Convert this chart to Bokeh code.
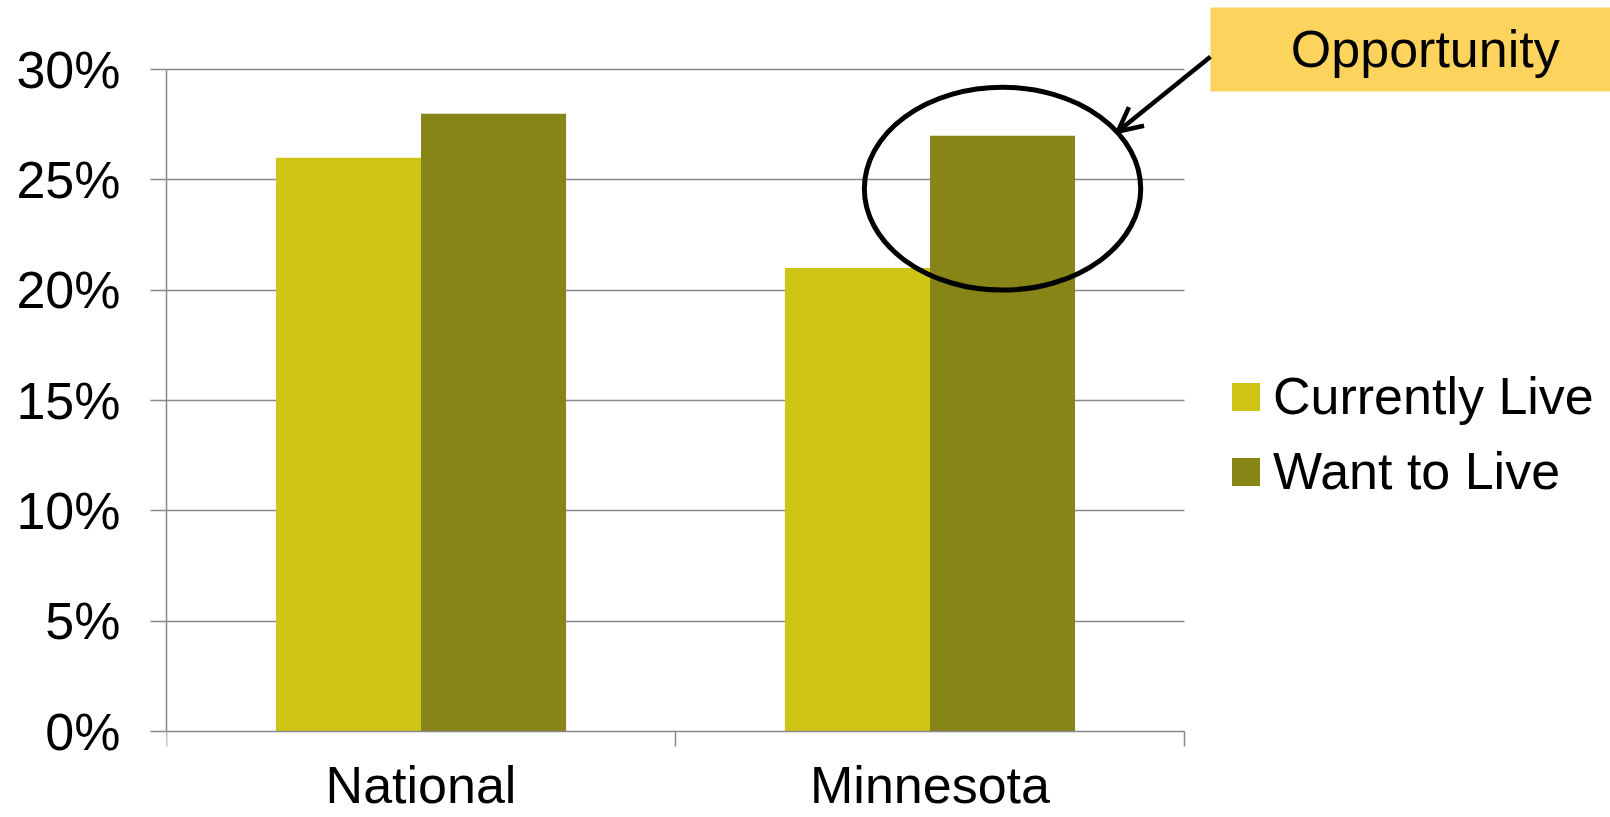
from bokeh.plotting import figure
from bokeh.models import (Range1d, FixedTicker, NumeralTickFormatter, Legend, LegendItem,
                          Arrow, OpenHead, BoxAnnotation, Label, LinearAxis)
from bokeh.embed import file_html
from bokeh.resources import INLINE

categories = ["National", "Minnesota"]
series_names = ["Currently Live", "Want to Live"]
currently_live = [0.26, 0.21]
want_to_live = [0.28, 0.27]
y_ticks = [0.0, 0.05, 0.10, 0.15, 0.20, 0.25, 0.30]
callout_text = "Opportunity"

FONT = "Liberation Sans"
GREY = "#898989"
C_CUR = "#D0C416"
C_WANT = "#888518"
FS = "52px"

n = len(categories)
centers = [i + 0.5 for i in range(n)]
bw = 0.285
y_max = y_ticks[-1]

W, H = 1610, 817
left_px, axis_w_px = 166, 1018          # plotting area of the bar chart
top_px, axis_h_px = 69, 662
px_per_x = axis_w_px / n
px_per_y = axis_h_px / y_max
x_end = n + (W - left_px - axis_w_px) / px_per_x
y_end = y_max + top_px / px_per_y
y_start = -(H - top_px - axis_h_px) / px_per_y

p = figure(width=W, height=H, output_backend="svg", toolbar_location=None,
           x_range=Range1d(0, x_end), y_range=Range1d(y_start, y_end),
           x_axis_location=None,
           min_border_left=left_px, min_border_right=0, min_border_top=0,
           min_border_bottom=0)
p.outline_line_color = None

r1 = p.vbar(x=[c - bw / 2 for c in centers], top=currently_live, width=bw,
            fill_color=C_CUR, line_color=None)
r2 = p.vbar(x=[c + bw / 2 for c in centers], top=want_to_live, width=bw,
            fill_color=C_WANT, line_color=None)

# y axis
yax = p.yaxis[0]
yax.ticker = FixedTicker(ticks=y_ticks)
yax.bounds = (0, y_max)
yax.formatter = NumeralTickFormatter(format="0%")
yax.axis_line_color = GREY
yax.axis_line_width = 1.5
yax.major_tick_line_color = GREY
yax.major_tick_line_width = 1.5
yax.major_tick_out = 16
yax.major_tick_in = 0
yax.minor_tick_line_color = None
yax.major_label_standoff = 30
yax.major_label_text_font = FONT
yax.major_label_text_font_size = FS
yax.major_label_text_color = "black"

# grid lines limited to the chart area
yg = p.ygrid[0]
yg.ticker = FixedTicker(ticks=y_ticks[1:])
if "cross_bounds" in yg.properties():
    yg.grid_line_color = GREY
    yg.grid_line_width = 1.3
    yg.cross_bounds = (0, n)
else:
    yg.grid_line_color = None
    p.segment(x0=[0] * (len(y_ticks) - 1), x1=[n] * (len(y_ticks) - 1),
              y0=y_ticks[1:], y1=y_ticks[1:], line_color=GREY, line_width=1.3,
              level="underlay")
p.xgrid.grid_line_color = None

# x axis fixed at zero
xax = LinearAxis(fixed_location=0, bounds=(0, n),
                 ticker=FixedTicker(ticks=centers, minor_ticks=list(range(n + 1))),
                 major_label_overrides={c: lab for c, lab in zip(centers, categories)})
xax.axis_line_color = GREY
xax.axis_line_width = 1.5
xax.major_tick_line_color = None
xax.major_tick_out = 0
xax.major_tick_in = 0
xax.minor_tick_line_color = GREY
xax.minor_tick_line_width = 1.5
xax.minor_tick_out = 15
xax.minor_tick_in = 0
xax.major_label_standoff = 9
xax.major_label_text_font = FONT
xax.major_label_text_font_size = FS
xax.major_label_text_color = "black"
p.add_layout(xax, "below")

# legend
legend = Legend(items=[LegendItem(label=series_names[0], renderers=[r1]),
                       LegendItem(label=series_names[1], renderers=[r2])],
                location=(1062, 316), orientation="vertical",
                glyph_width=35, glyph_height=35, label_standoff=10, label_height=60,
                label_text_font=FONT, label_text_font_size=FS,
                label_text_color="black", spacing=15, padding=0, margin=0,
                border_line_color=None, background_fill_alpha=0)
p.add_layout(legend, "center")

# highlight ellipse around Minnesota "want" bar
hx = centers[1] + bw / 2
p.ellipse(x=[hx], y=[0.246], width=0.543, height=0.092,
          fill_alpha=0, line_color="black", line_width=5)

# callout box + arrow
p.add_layout(BoxAnnotation(left=2.051, right=x_end, top=0.3281, bottom=0.2900,
                           fill_color="#FCD35C", fill_alpha=1, line_color=None,
                           level="annotation"))
p.add_layout(Label(x=2.473, y=0.3095, text=callout_text, text_font=FONT,
                   text_font_size=FS, text_align="center", text_baseline="middle",
                   text_color="black"))
p.add_layout(Arrow(x_start=2.051, y_start=0.3058, x_end=1.869, y_end=0.2719,
                   line_width=4.5, line_color="black",
                   end=OpenHead(size=24, line_width=4.5, line_color="black")))

open("out.html", "w").write(file_html(p, INLINE))
